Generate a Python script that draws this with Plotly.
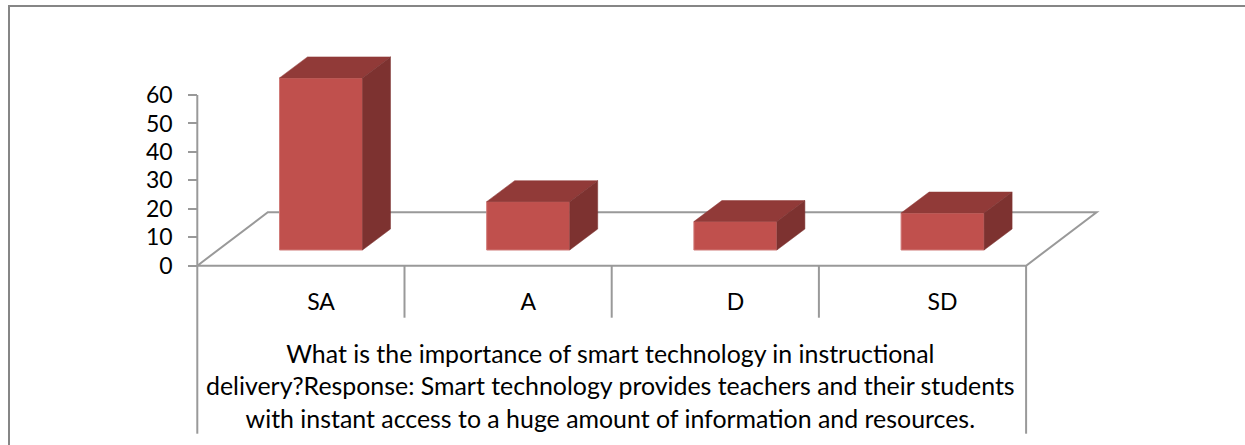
import numpy as np
import plotly.graph_objects as go

categories = ["SA", "A", "D", "SD"]
values = [60.5, 17, 10, 13]
y_ticks = [0, 10, 20, 30, 40, 50, 60]
caption = ("What is the importance of smart technology in instructional<br>"
           "delivery?Response: Smart technology provides teachers and their students<br>"
           "with instant access to a huge amount of information and resources.")

W, H = 1245, 445
# pixel position of the chart origin and scale of the axes
x0_px, y0_px = 197.3, 265.7
x_unit = 207.2
y_unit = 2.845

front = "#c0504d"
top = "#913a38"
side = "#7d3230"
grey = "#999999"
frame = "#868686"

# 3d look: depth of the floor and of the boxes, in axis units
floor_dx, floor_dy = 70.5 / x_unit, 53.5 / y_unit
box_dx, box_dy = 28 / x_unit, 21 / y_unit
box_w = 83 / x_unit
box_base = 15.7 / y_unit
box_shift = 0.097

x = np.arange(len(categories)) + 0.5 + box_shift
vals = np.array(values, dtype=float)
n = len(categories)

fig = go.Figure()

shapes = []


def line(xs, ys, color=grey, width=2):
    path = "M " + " L ".join("{:.4f},{:.4f}".format(a, b) for a, b in zip(xs, ys))
    shapes.append(dict(type="path", path=path, layer="below", xref="x", yref="y",
                       line=dict(color=color, width=width)))


# floor of the chart
line([0, floor_dx, n + floor_dx, n, 0],
     [0, floor_dy, floor_dy, 0, 0])
# value axis, and the table under the categories
line([0, 0], [0, 60])
for i in range(1, n):
    line([i, i], [0, -52 / y_unit])
line([0, 0], [0, -168 / y_unit])
line([n, n], [0, -168 / y_unit])

# picture frame, open at the right and at the bottom
shapes.append(dict(type="path", layer="below", xref="paper", yref="paper",
                   path="M {l},0 L {l},{t} L 1,{t}".format(l=9 / W, t=(H - 6) / H),
                   line=dict(color=frame, width=2)))

# boxes
fig.add_trace(go.Bar(x=x, y=vals, base=box_base, width=box_w,
                     marker=dict(color=front, line=dict(color="#d07a78", width=1))))
for xi, v in zip(x, vals):
    left, right = xi - box_w / 2, xi + box_w / 2
    fig.add_trace(go.Scatter(
        x=[left, left + box_dx, right + box_dx, right, left],
        y=[box_base + v, box_base + v + box_dy, box_base + v + box_dy, box_base + v, box_base + v],
        mode="lines", fill="toself", fillcolor=top, line=dict(color=top, width=0.5), hoverinfo="skip"))
    fig.add_trace(go.Scatter(
        x=[right, right + box_dx, right + box_dx, right, right],
        y=[box_base, box_base + box_dy, box_base + v + box_dy, box_base + v, box_base],
        mode="lines", fill="toself", fillcolor=side, line=dict(color=side, width=0.5), hoverinfo="skip"))

fig.add_annotation(x=n / 2 - 0.004, y=-119.5 / y_unit, text=caption, showarrow=False, align="center",
                   font=dict(family="Lato", size=24.9, color="#000000"))

fig.update_layout(
    width=W, height=H, autosize=False, showlegend=False,
    margin=dict(l=0, r=0, t=0, b=0),
    paper_bgcolor="white", plot_bgcolor="white",
    barmode="overlay",
    font=dict(family="Lato", color="#000000"),
    shapes=shapes,
    xaxis=dict(range=[-x0_px / x_unit, (W - x0_px) / x_unit],
               tickvals=x, ticktext=categories,
               anchor="free", position=(H - y0_px - 20) / H,
               side="bottom", ticks="", showgrid=False, zeroline=False, showline=False,
               tickfont=dict(family="Lato", size=23)),
    yaxis=dict(range=[(y0_px - H) / y_unit, y0_px / y_unit],
               tickvals=y_ticks, anchor="free", position=x0_px / W,
               ticks="outside", ticklen=9, tickwidth=2, tickcolor=grey,
               showgrid=False, zeroline=False, showline=False,
               ticklabelstandoff=11,
               tickfont=dict(family="Lato", size=23)),
)

# the page's default body margin would push the chart off its position
fig.write_html("out.html", config=dict(displayModeBar=False),
               post_script="document.body.style.margin = '0';")
